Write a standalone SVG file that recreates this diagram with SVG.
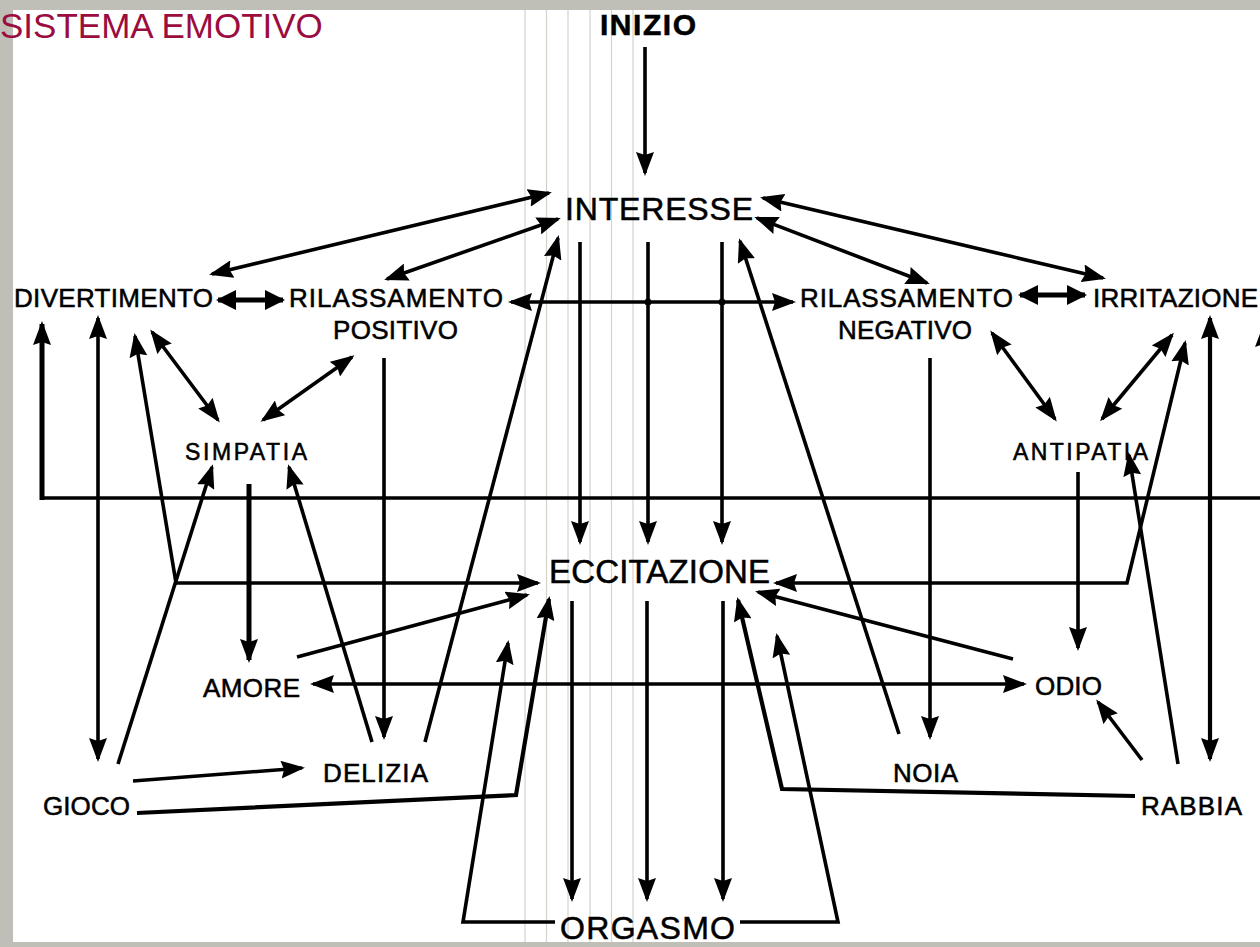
<svg xmlns="http://www.w3.org/2000/svg" width="1260" height="947" viewBox="0 0 1260 947">
<style>
.lbl{font-family:"Liberation Sans",Arial,sans-serif;fill:#000;stroke:#000;stroke-width:0.55}
.big{font-size:32px}
.mid{font-size:26px}
.ln{fill:none;stroke:#000;stroke-width:3.6;stroke-linejoin:miter}
.th{stroke-width:5}
.gl{stroke:#d3d3cb;stroke-width:1.2}
</style>
<defs>
<marker id="ah" viewBox="0 0 24 18" refX="21" refY="9" markerWidth="24" markerHeight="18" orient="auto-start-reverse" markerUnits="userSpaceOnUse">
<path d="M0,0 L24,9 L0,18 L3,9 z" fill="#000"/>
</marker>
<marker id="af" viewBox="0 0 20 20" refX="18" refY="10" markerWidth="20" markerHeight="20" orient="auto-start-reverse" markerUnits="userSpaceOnUse">
<path d="M0,0 L20,10 L0,20 z" fill="#000"/>
</marker>
</defs>
<rect x="0" y="0" width="1260" height="947" fill="#bfbfb7"/>
<rect x="13" y="10" width="1247" height="932" fill="#fff"/>
<g id="guides">
<line class="gl" x1="525" y1="10" x2="525" y2="942"/>
<line class="gl" x1="546.5" y1="10" x2="546.5" y2="942"/>
<line class="gl" x1="568" y1="10" x2="568" y2="942"/>
<line class="gl" x1="590" y1="10" x2="590" y2="942"/>
<line class="gl" x1="611.5" y1="10" x2="611.5" y2="942"/>
<line class="gl" x1="633" y1="10" x2="633" y2="942"/>
</g>
<g id="connectors">
<path class="ln" d="M645,47 V173" marker-end="url(#ah)"/>
<path class="ln" d="M549,193 L212,274" marker-start="url(#ah)" marker-end="url(#ah)"/>
<path class="ln" d="M558,219 L387,279" marker-start="url(#ah)" marker-end="url(#ah)"/>
<path class="ln" d="M757,218 L927,283" marker-start="url(#ah)" marker-end="url(#ah)"/>
<path class="ln" d="M763,198 L1103,278" marker-start="url(#ah)" marker-end="url(#ah)"/>
<path class="ln th" d="M218,300 L283,300" marker-start="url(#af)" marker-end="url(#af)"/>
<path class="ln th" d="M1020,295 L1085,295" marker-start="url(#af)" marker-end="url(#af)"/>
<path class="ln" d="M511,302 L793,302" marker-start="url(#ah)" marker-end="url(#ah)"/>
<circle cx="648" cy="302" r="3.5" fill="#000"/>
<circle cx="722" cy="302" r="3.5" fill="#000"/>
<path class="ln" d="M580,242 V542" marker-end="url(#ah)"/>
<path class="ln" d="M648,242 V542" marker-end="url(#ah)"/>
<path class="ln" d="M722,242 V542" marker-end="url(#ah)"/>
<path class="ln" d="M572,601 V899" marker-end="url(#ah)"/>
<path class="ln" d="M647,601 V899" marker-end="url(#ah)"/>
<path class="ln" d="M723,601 V899" marker-end="url(#ah)"/>
<path class="ln" d="M40,498 H1262"/>
<path class="ln th" d="M42,500 V324" marker-end="url(#ah)"/>
<path class="ln th" d="M1264,498 V326" marker-end="url(#ah)"/>
<path class="ln" d="M98,318 V759" marker-start="url(#ah)" marker-end="url(#ah)"/>
<path class="ln" d="M152,332 L218,420" marker-start="url(#ah)" marker-end="url(#ah)"/>
<path class="ln" d="M352,357 L263,420" marker-start="url(#ah)" marker-end="url(#ah)"/>
<path class="ln" d="M384,358 V737" marker-end="url(#ah)"/>
<path class="ln" d="M135,336 L176,583 L538,583" marker-start="url(#ah)" marker-end="url(#ah)"/>
<path class="ln" d="M118,764 L212,467" marker-end="url(#ah)"/>
<path class="ln th" d="M249,484 V660" marker-end="url(#ah)"/>
<path class="ln" d="M313,684 H1024" marker-start="url(#ah)" marker-end="url(#ah)"/>
<path class="ln" d="M297,657 L527,595" marker-end="url(#ah)"/>
<path class="ln" d="M1013,659 L758,592" marker-end="url(#ah)"/>
<path class="ln" d="M372,742 L289,467" marker-end="url(#ah)"/>
<path class="ln" d="M425,742 L558,238" marker-end="url(#ah)"/>
<path class="ln" d="M899,734 L740,241" marker-end="url(#ah)"/>
<path class="ln" d="M133,781 L302,768" marker-end="url(#ah)"/>
<path class="ln" d="M137,813 L516,795 L549,599" style="stroke-width:4.2" marker-end="url(#ah)"/>
<path class="ln" d="M555,922 H463 L508,643" marker-end="url(#ah)"/>
<path class="ln" d="M740,922 H838 L777,636" marker-end="url(#ah)"/>
<path class="ln" d="M1135,796 L782,789 L738,600" style="stroke-width:4.2" marker-end="url(#ah)"/>
<path class="ln" d="M1142,760 L1098,702" marker-end="url(#ah)"/>
<path class="ln" d="M1178,764 L1129,455" marker-end="url(#ah)"/>
<path class="ln" d="M776,583 L1127,583 L1185,343" marker-start="url(#ah)" marker-end="url(#ah)"/>
<path class="ln" d="M992,333 L1055,419" marker-start="url(#ah)" marker-end="url(#ah)"/>
<path class="ln" d="M1172,335 L1102,419" marker-start="url(#ah)" marker-end="url(#ah)"/>
<path class="ln" d="M930,358 V737" marker-end="url(#ah)"/>
<path class="ln" d="M1078,472 V648" marker-end="url(#ah)"/>
<path class="ln" style="stroke-width:4.2" d="M1210,318 V759" marker-start="url(#ah)" marker-end="url(#ah)"/>
</g>
<g id="inizio"><text class="lbl" x="600" y="35" style="font-size:30px;font-weight:bold" textLength="96" lengthAdjust="spacing">INIZIO</text></g>
<g id="interesse"><text class="lbl big" x="565" y="220" textLength="188" lengthAdjust="spacing">INTERESSE</text></g>
<g id="divertimento"><text class="lbl mid" x="14" y="307" textLength="199" lengthAdjust="spacing">DIVERTIMENTO</text></g>
<g id="rilassamento-positivo"><text class="lbl mid" x="289" y="307" textLength="214" lengthAdjust="spacing">RILASSAMENTO</text><text class="lbl mid" x="333" y="339" textLength="125" lengthAdjust="spacing">POSITIVO</text></g>
<g id="rilassamento-negativo"><text class="lbl mid" x="800" y="307" textLength="213" lengthAdjust="spacing">RILASSAMENTO</text><text class="lbl mid" x="838" y="339" textLength="134" lengthAdjust="spacing">NEGATIVO</text></g>
<g id="irritazione"><text class="lbl mid" x="1093" y="307" textLength="165" lengthAdjust="spacing">IRRITAZIONE</text></g>
<g id="simpatia"><text class="lbl" style="font-size:23px" x="185" y="460" textLength="122" lengthAdjust="spacing">SIMPATIA</text></g>
<g id="antipatia"><text class="lbl" style="font-size:23px" x="1013" y="460" textLength="135" lengthAdjust="spacing">ANTIPATIA</text></g>
<g id="eccitazione"><text class="lbl" style="font-size:33px" x="549" y="583" textLength="221" lengthAdjust="spacing">ECCITAZIONE</text></g>
<g id="amore"><text class="lbl mid" x="203" y="697" textLength="97" lengthAdjust="spacing">AMORE</text></g>
<g id="odio"><text class="lbl mid" x="1035" y="695" textLength="67" lengthAdjust="spacing">ODIO</text></g>
<g id="delizia"><text class="lbl mid" x="323" y="782" textLength="105" lengthAdjust="spacing">DELIZIA</text></g>
<g id="noia"><text class="lbl mid" x="893" y="782" textLength="65" lengthAdjust="spacing">NOIA</text></g>
<g id="gioco"><text class="lbl mid" x="43" y="815" textLength="87" lengthAdjust="spacing">GIOCO</text></g>
<g id="rabbia"><text class="lbl mid" x="1141" y="815" textLength="101" lengthAdjust="spacing">RABBIA</text></g>
<g id="orgasmo"><text class="lbl" style="font-size:32px" x="560" y="939" textLength="175" lengthAdjust="spacing">ORGASMO</text></g>
<rect x="0" y="942" width="1260" height="5" fill="#bfbfb7"/>
<g id="title"><text x="0" y="38" style="font-family:'Liberation Sans',Arial,sans-serif;font-size:35px;fill:#9b0d3e">SISTEMA EMOTIVO</text></g>
</svg>
